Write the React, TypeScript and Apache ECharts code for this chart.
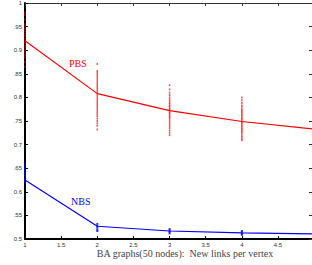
import React, { useEffect, useRef } from "react";
import * as echarts from "echarts";

const xValues = [1, 2, 3, 4, 5];
const pbsMean = [0.92, 0.808, 0.772, 0.749, 0.733];
const nbsMean = [0.625, 0.527, 0.517, 0.513, 0.511];

const pbsX1 = [0.98, 0.975, 0.965, 0.955, 0.95, 0.945, 0.94, 0.935, 0.93, 0.925, 0.92, 0.915, 0.91, 0.905, 0.9, 0.895, 0.89, 0.885, 0.875, 0.865];
const pbsX2 = [0.871, 0.856, 0.852, 0.848, 0.844, 0.84, 0.836, 0.832, 0.828, 0.824, 0.82, 0.816, 0.812, 0.808, 0.804, 0.8, 0.796, 0.792, 0.788, 0.784, 0.78, 0.776, 0.772, 0.768, 0.764, 0.76, 0.755, 0.75, 0.745, 0.74, 0.732];
const pbsX3 = [0.826, 0.817, 0.81, 0.805, 0.8, 0.796, 0.792, 0.788, 0.785, 0.782, 0.779, 0.776, 0.773, 0.77, 0.767, 0.764, 0.761, 0.758, 0.755, 0.751, 0.747, 0.743, 0.739, 0.735, 0.73, 0.725, 0.72];
const pbsX4 = [0.8, 0.794, 0.788, 0.783, 0.779, 0.775, 0.772, 0.769, 0.766, 0.763, 0.76, 0.757, 0.754, 0.751, 0.748, 0.745, 0.742, 0.739, 0.736, 0.733, 0.73, 0.727, 0.724, 0.72, 0.716, 0.712, 0.709];

const nbsX1 = [0.66, 0.655, 0.65, 0.645, 0.64, 0.635, 0.63, 0.625, 0.62];
const nbsX2 = [0.532, 0.528, 0.524, 0.52, 0.517];
const nbsX3 = [0.521, 0.518, 0.515, 0.512];
const nbsX4 = [0.517, 0.514, 0.511, 0.509];

const yTickLabels: Record<string, string> = {
  "1": "1", "0.95": ".95", "0.9": "0.9", "0.85": ".85", "0.8": "0.8", "0.75": ".75",
  "0.7": "0.7", "0.65": ".65", "0.6": "0.6", "0.55": ".55", "0.5": "0.5",
};
const xTickLabels: Record<string, string> = {
  "1": "1", "1.5": "1.5", "2": "2", "2.5": "2.5", "3": "3", "3.5": "3.5", "4": "4", "4.5": "4.5",
};

const xTitle = "BA graphs(50 nodes):  New links per vertex";

function cols(xs: number[], groups: number[][]) {
  const out: number[][] = [];
  groups.forEach((g, i) => g.forEach((v) => out.push([xs[i], v])));
  return out;
}

export default function App() {
  const ref = useRef<HTMLDivElement>(null);
  useEffect(() => {
    const chart = echarts.init(ref.current!, undefined, { renderer: "svg" });
    const red = "#ff0000";
    const blue = "#0000ff";
    chart.setOption({
      animation: false,
      backgroundColor: "#ffffff",
      grid: { left: 25, right: 0, top: 2, bottom: 26 },
      xAxis: [
        {
          type: "value", min: 1, max: 4.97, interval: 0.5,
          axisLine: { lineStyle: { color: "#000", width: 2 } },
          axisTick: { inside: true, length: 3, lineStyle: { color: "#000" } },
          axisLabel: { fontSize: 6, color: "#333", margin: 3, showMaxLabel: false, formatter: (v: number) => xTickLabels[String(Math.round(v * 10) / 10)] ?? "" },
          splitLine: { show: false },
        },
        {
          type: "value", min: 1, max: 4.97, interval: 0.5, position: "top",
          axisLine: { lineStyle: { color: "#333", width: 1 } },
          axisTick: { inside: true, length: 3, lineStyle: { color: "#333" } },
          axisLabel: { show: false },
          splitLine: { show: false },
        },
      ],
      yAxis: [
        {
          type: "value", min: 0.5, max: 1, interval: 0.05,
          axisLine: { lineStyle: { color: "#000", width: 2 } },
          axisTick: { inside: true, length: 3, lineStyle: { color: "#000" } },
          axisLabel: { fontSize: 6, color: "#333", margin: 3, formatter: (v: number) => yTickLabels[String(Math.round(v * 100) / 100)] ?? "" },
          splitLine: { show: false },
        },
        {
          type: "value", min: 0.5, max: 1, interval: 0.05, position: "right",
          axisLine: { lineStyle: { color: "#ddd", width: 1 } },
          axisTick: { inside: true, length: 3, lineStyle: { color: "#333" } },
          axisLabel: { show: false },
          splitLine: { show: false },
        },
      ],
      series: [
        {
          type: "scatter", symbol: "rect", symbolSize: [1.5, 2],
          itemStyle: { color: red, opacity: 0.7 },
          data: cols(xValues, [pbsX1, pbsX2, pbsX3, pbsX4]),
        },
        {
          type: "scatter", symbol: "rect", symbolSize: [2, 2],
          itemStyle: { color: blue, opacity: 0.8 },
          data: cols(xValues, [nbsX1, nbsX2, nbsX3, nbsX4]),
        },
        {
          type: "line", showSymbol: false, symbol: "none",
          lineStyle: { color: red, width: 1.2 },
          data: xValues.map((x, i) => [x, pbsMean[i]]),
        },
        {
          type: "line", showSymbol: false, symbol: "none",
          lineStyle: { color: blue, width: 1.2 },
          data: xValues.map((x, i) => [x, nbsMean[i]]),
        },
      ],
      graphic: [
        { type: "text", left: 69, top: 58, style: { text: "PBS", fill: red, font: "10px 'Liberation Serif', serif" } },
        { type: "text", left: 71, top: 196, style: { text: "NBS", fill: blue, font: "10px 'Liberation Serif', serif" } },
        { type: "text", x: 185, y: 253, style: { text: xTitle, fill: "#444", font: "10px 'Liberation Serif', serif", align: "center", verticalAlign: "middle" } },
      ],
    });
    return () => chart.dispose();
  }, []);
  return <div ref={ref} style={{ position: "fixed", left: 0, top: 0, width: 312, height: 265 }} />;
}
